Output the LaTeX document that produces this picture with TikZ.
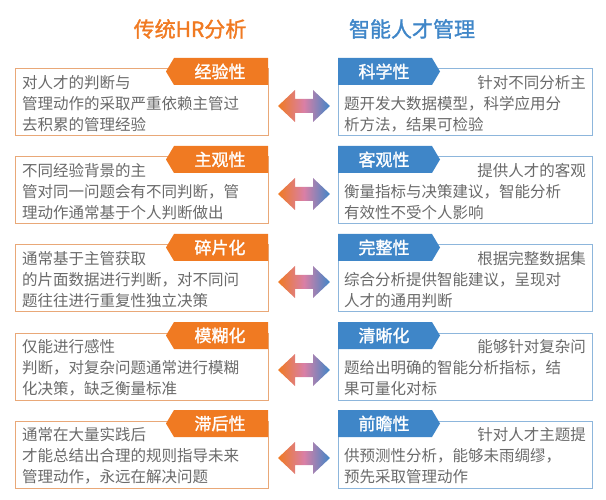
\documentclass[tikz,border=0pt]{standalone}
\usepackage{fontspec}
\setmainfont{Noto Sans CJK SC}
\newfontfamily\boldcjk[FakeBold=1.5]{Noto Sans CJK SC}
\definecolor{hrorange}{HTML}{F07A22}
\definecolor{aiblue}{HTML}{3F86C8}
\definecolor{hrline}{HTML}{E9A878}
\definecolor{ailine}{HTML}{8DB6DC}
\definecolor{bodygray}{HTML}{6A6A6A}
\tikzset{
  txt/.style={inner sep=0pt, font=\fontsize{15.5}{18}\selectfont, text=bodygray},
  tagtxt/.style={inner sep=0pt, font=\boldcjk\fontsize{17}{20}\selectfont, text=white},
}
\begin{document}
\begin{tikzpicture}[x=1pt,y=-1pt]
  \useasboundingbox (0,0) rectangle (606,500);
  \node (hrtitle) [font=\boldcjk\fontsize{21}{24}\selectfont, text=hrorange] at (190,29) {传统HR分析};
  \node (aititle) [font=\boldcjk\fontsize{21}{24}\selectfont, text=aiblue] at (412,29) {智能人才管理};
  \foreach \i/\ltag/\rtag/\la/\lb/\lc/\ra/\rb/\rc in {
    0/经验性/科学性/对人才的判断与/管理动作的采取严重依赖主管过/去积累的管理经验/针对不同分析主/题开发大数据模型，科学应用分/析方法，结果可检验,
    1/主观性/客观性/不同经验背景的主/管对同一问题会有不同判断，管/理动作通常基于个人判断做出/提供人才的客观/衡量指标与决策建议，智能分析/有效性不受个人影响,
    2/碎片化/完整性/通常基于主管获取/的片面数据进行判断，对不同问/题往往进行重复性独立决策/根据完整数据集/综合分析提供智能建议，呈现对/人才的通用判断,
    3/模糊化/清晰化/仅能进行感性/判断，对复杂问题通常进行模糊/化决策，缺乏衡量标准/能够针对复杂问/题给出明确的智能分析指标，结/果可量化对标,
    4/滞后性/前瞻性/通常在大量实践后/才能总结出合理的规则指导未来/管理动作，永远在解决问题/针对人才主题提/供预测性分析，能够未雨绸缪，/预先采取管理动作} {
    \pgfmathsetmacro{\yo}{88*\i}
    \begin{scope}[yshift=-\yo pt]
      % boxes
      \draw[hrline, line width=1pt, fill=white] (15,69) rectangle (268,136);
      \draw[ailine, line width=1pt, fill=white] (338,69) rectangle (592,136);
      % tags
      \fill[hrorange] (174,58) -- (268,58) -- (268,85) -- (174,85) -- (166,71.5) -- cycle;
      \fill[aiblue] (338,58) -- (432,58) -- (440,71.5) -- (432,85) -- (338,85) -- cycle;
      \node (ltag\i) [tagtxt] at (220,71.5) {\ltag};
      \node (rtag\i) [tagtxt] at (384,71.5) {\rtag};
      % texts
      \node (la\i) [txt, anchor=west] at (22,83) {\la};
      \node (lb\i) [txt, anchor=west] at (22,104) {\lb};
      \node (lc\i) [txt, anchor=west] at (22,125) {\lc};
      \node (ra\i) [txt, anchor=east] at (586,83) {\ra};
      \node (rb\i) [txt, anchor=west] at (344,104) {\rb};
      \node (rc\i) [txt, anchor=west] at (344,125) {\rc};
      % double arrow
      \shade[left color=hrorange, right color=aiblue, middle color=red!40!violet!50]
        (278,106) -- (295,90) -- (295,99) -- (313,99) -- (313,90) -- (330,106)
        -- (313,122) -- (313,113) -- (295,113) -- (295,122) -- cycle;
    \end{scope}
  }
\end{tikzpicture}
\end{document}
